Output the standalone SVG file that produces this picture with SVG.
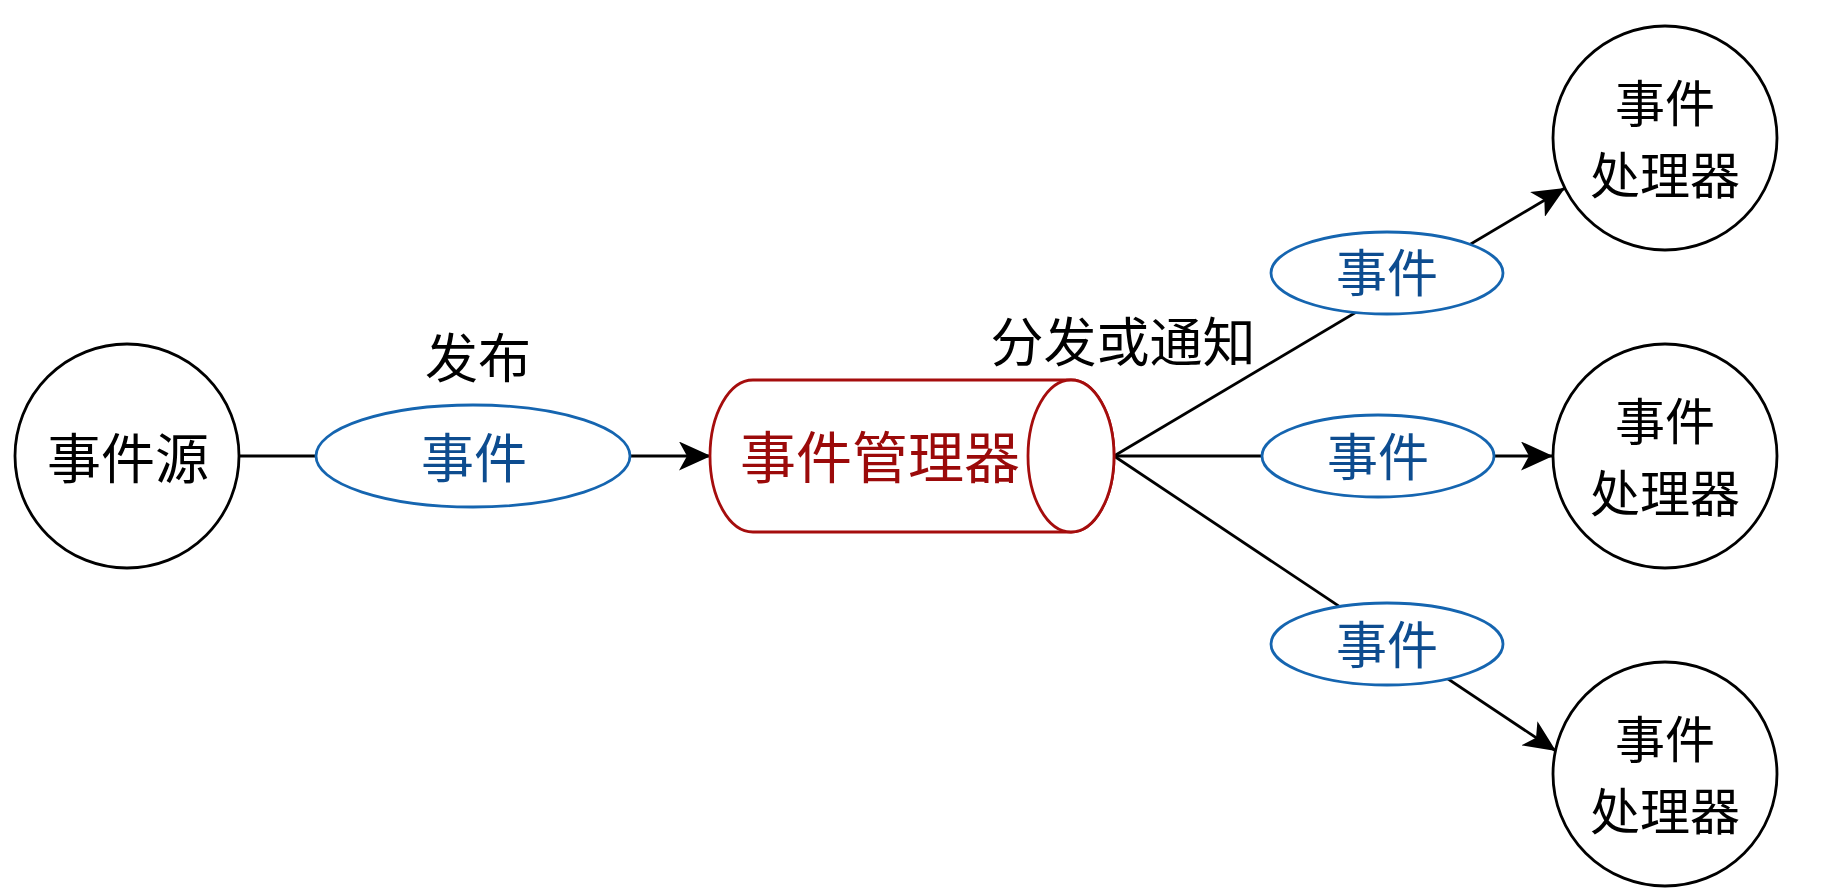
<svg xmlns="http://www.w3.org/2000/svg" width="1848" height="896" viewBox="0 0 1848 896">
<style>
text{font-family:"Noto Sans CJK SC","Noto Sans",sans-serif;text-anchor:middle;dominant-baseline:central}
.blk{fill:#000;font-size:53px}
.hdl{fill:#000;font-size:50px}
.blue{fill:#0d4c8f;font-size:51px}
.red{fill:#9b0a0a;font-size:56px}
.circ{fill:#fff;stroke:#000;stroke-width:2.8}
.evt{fill:#fff;stroke:#1565b0;stroke-width:2.8}
.conn{fill:none;stroke:#000;stroke-width:2.8}
</style>
<defs>
<marker id="arr" markerUnits="userSpaceOnUse" markerWidth="32" markerHeight="29" refX="32" refY="14.5" orient="auto" viewBox="0 0 32 29">
<path d="M0,0 L32,14.5 L0,29 L8,14.5 Z" fill="#000"/>
</marker>
</defs>
<rect width="1848" height="896" fill="#fff"/>
<g id="connectors">
<line class="conn" x1="239" y1="456" x2="711" y2="456" marker-end="url(#arr)"/>
<line class="conn" x1="1114" y1="456" x2="1565" y2="188" marker-end="url(#arr)"/>
<line class="conn" x1="1114" y1="456" x2="1553" y2="456" marker-end="url(#arr)"/>
<line class="conn" x1="1114" y1="456" x2="1556" y2="751" marker-end="url(#arr)"/>
</g>
<g id="label-publish"><text class="blk" x="478" y="355">发布</text></g>
<g id="label-dispatch"><text class="blk" x="1123" y="339">分发或通知</text></g>
<g id="event-source">
<circle class="circ" cx="127" cy="456" r="112"/>
<text class="blk" x="128" y="455" style="font-size:54px">事件源</text>
</g>
<g id="event-publish">
<ellipse class="evt" cx="473" cy="456" rx="157" ry="51"/>
<text class="blue" x="474" y="455" style="font-size:53px">事件</text>
</g>
<g id="event-manager">
<path d="M753,380 H1071 A43,76 0 0 1 1071,532 H753 A43,76 0 0 1 753,380 Z" fill="#fff" stroke="#a50d0d" stroke-width="2.8"/>
<ellipse cx="1071" cy="456" rx="43" ry="76" fill="#fff" stroke="#a50d0d" stroke-width="2.8"/>
<text class="red" x="880" y="453">事件管理器</text>
</g>
<g id="event-1">
<ellipse class="evt" cx="1387" cy="273" rx="116" ry="41"/>
<text class="blue" x="1387" y="270">事件</text>
</g>
<g id="event-2">
<ellipse class="evt" cx="1378" cy="456" rx="116" ry="41"/>
<text class="blue" x="1378" y="454">事件</text>
</g>
<g id="event-3">
<ellipse class="evt" cx="1387" cy="644" rx="116" ry="41"/>
<text class="blue" x="1387" y="642">事件</text>
</g>
<g id="handler-1">
<circle class="circ" cx="1665" cy="138" r="112"/>
<text class="hdl" x="1665" y="100">事件</text>
<text class="hdl" x="1665" y="172">处理器</text>
</g>
<g id="handler-2">
<circle class="circ" cx="1665" cy="456" r="112"/>
<text class="hdl" x="1665" y="418">事件</text>
<text class="hdl" x="1665" y="490">处理器</text>
</g>
<g id="handler-3">
<circle class="circ" cx="1665" cy="774" r="112"/>
<text class="hdl" x="1665" y="736">事件</text>
<text class="hdl" x="1665" y="808">处理器</text>
</g>
</svg>
